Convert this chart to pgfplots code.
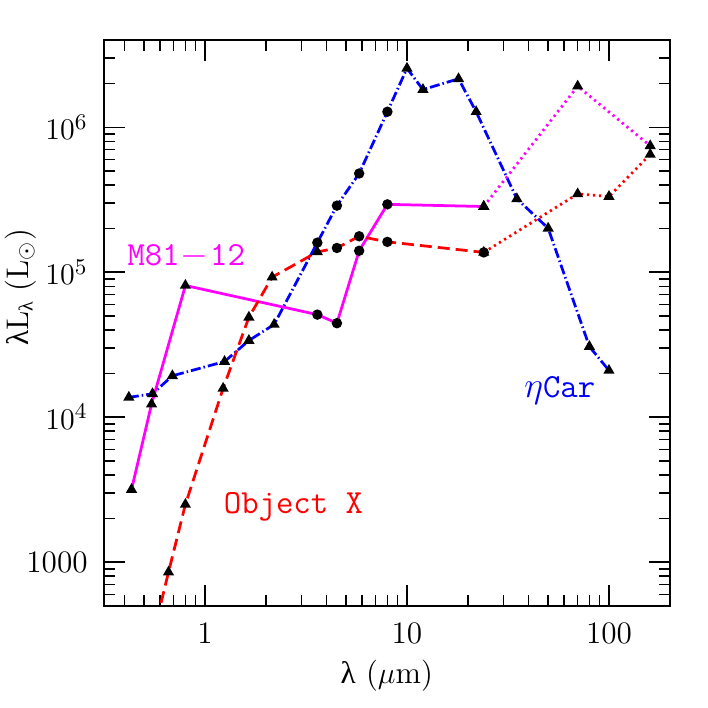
\documentclass[border=0pt]{standalone}
\usepackage{fontspec}
\usepackage{pgfplots}
\usepackage{pgfplotstable}
\pgfplotsset{compat=1.18}
\newfontfamily\grk{Liberation Serif}
\definecolor{pmag}{RGB}{255,0,255}
\definecolor{pblue}{RGB}{0,0,255}
\definecolor{pred}{RGB}{255,0,0}

% eta Car (dash-dot)
\pgfplotstableread{
x y
0.42 13700
0.55 14500
0.69 19300
1.25 24200
1.65 33800
2.2 43600
3.6 160000
4.5 288000
5.8 480000
8.0 1280000
10 2550000
12 1820000
18 2160000
22 1280000
35 321000
50 201000
80 30700
100 21000
}\etacar

% M81-12 (solid, then dotted)
\pgfplotstableread{
x y
0.433 3170
0.544 12300
0.80 81000
3.6 51000
4.5 44500
5.8 140600
8.0 294000
24 284000
}\mira
\pgfplotstableread{
x y
24 284000
70 1920000
160 745000
}\mirb

% Object X (dashed, then dotted)
\pgfplotstableread{
x y
0.55 300
0.66 853
0.80 2500
1.23 15800
1.65 48900
2.15 92400
3.6 138000
4.5 147000
5.8 177000
8.0 162000
24 137000
}\obxa
\pgfplotstableread{
x y
24 137000
70 347000
100 333000
160 649000
}\obxb

\begin{document}
\begin{tikzpicture}[font=\fontsize{12.5}{15}\selectfont]
\path[use as bounding box] (-41.6pt,-40.9pt) rectangle (241.6pt,242.4pt);
\begin{axis}[
  at={(0pt,0pt)}, anchor=south west,
  scale only axis, width=226.4pt, height=226.4pt,
  xmode=log, ymode=log,
  xmin=0.31623, xmax=200, ymin=500, ymax=4e6,
  axis line style={line width=0.8pt},
  tick style={line width=0.6pt, black},
  tick align=inside,
  major tick length=8.4pt, minor tick length=4.4pt,
  xtick={1,10,100}, xticklabels={1,10,100},
  minor xtick={0.4,0.5,0.6,0.7,0.8,0.9,2,3,4,5,6,7,8,9,20,30,40,50,60,70,80,90},
  ytick={1000,10000,100000,1000000},
  yticklabels={1000,$10^4$,$10^5$,$10^6$},
  minor ytick={600,700,800,900,2000,3000,4000,5000,6000,7000,8000,9000,
    20000,30000,40000,50000,60000,70000,80000,90000,
    200000,300000,400000,500000,600000,700000,800000,900000,2000000,3000000},
  xticklabel style={yshift=-3.4pt},
  yticklabel style={xshift=-3pt},
  xlabel={{\grk λ} ($\mu$m)},
  ylabel={{\grk λ}L\raisebox{-0.35ex}{\footnotesize\grk λ} (L$_\odot$)},
  xlabel style={at={(axis description cs:0.5,-0.124)}, anchor=center},
  ylabel style={at={(axis description cs:-0.148,0.563)}, anchor=center},
  every axis plot/.append style={line width=1.1pt},
  clip=true,
]
% lines
\addplot[pblue, dash pattern=on 4pt off 1.2pt on 0.6pt off 1.2pt] table {\etacar};
\addplot[pmag] table {\mira};
\addplot[pmag, dash pattern=on 0.9pt off 1.5pt] table {\mirb};
\addplot[pred, dash pattern=on 4.8pt off 2.4pt] table {\obxa};
\addplot[pred, dash pattern=on 0.9pt off 1.5pt] table {\obxb};
% markers
\addplot[only marks, mark=triangle*, mark size=1.5pt, fill=black, draw=black,
  mark indices={1,2,3,4,5,6,11,12,13,14,15,16,17,18}] table {\etacar};
\addplot[only marks, mark=*, mark size=1.5pt, fill=black, draw=black,
  mark indices={7,8,9,10}] table {\etacar};
\addplot[only marks, mark=triangle*, mark size=1.5pt, fill=black, draw=black,
  mark indices={1,2,3,8}] table {\mira};
\addplot[only marks, mark=*, mark size=1.5pt, fill=black, draw=black,
  mark indices={4,5,6,7}] table {\mira};
\addplot[only marks, mark=triangle*, mark size=1.5pt, fill=black, draw=black] table {\mirb};
\addplot[only marks, mark=triangle*, mark size=1.5pt, fill=black, draw=black,
  mark indices={1,2,3,4,5,6,11}] table {\obxa};
\addplot[only marks, mark=*, mark size=1.5pt, fill=black, draw=black,
  mark indices={7,8,9,10}] table {\obxa};
\addplot[only marks, mark=triangle*, mark size=1.5pt, fill=black, draw=black] table {\obxb};
% labels
\node[pmag, font=\ttfamily\fontsize{13.5}{15}\selectfont, anchor=base]
  at (axis cs:0.808,1.11e5) {M81\kern0.5pt$-$\kern0.5pt12};
\node[pred, font=\ttfamily\fontsize{13.5}{15}\selectfont, anchor=base]
  at (axis cs:2.74,2168) {Object X};
\node[pblue, font=\ttfamily\fontsize{13.5}{15}\selectfont, anchor=base]
  at (axis cs:57.1,13670) {$\eta$Car};
\end{axis}
\end{tikzpicture}
\end{document}
